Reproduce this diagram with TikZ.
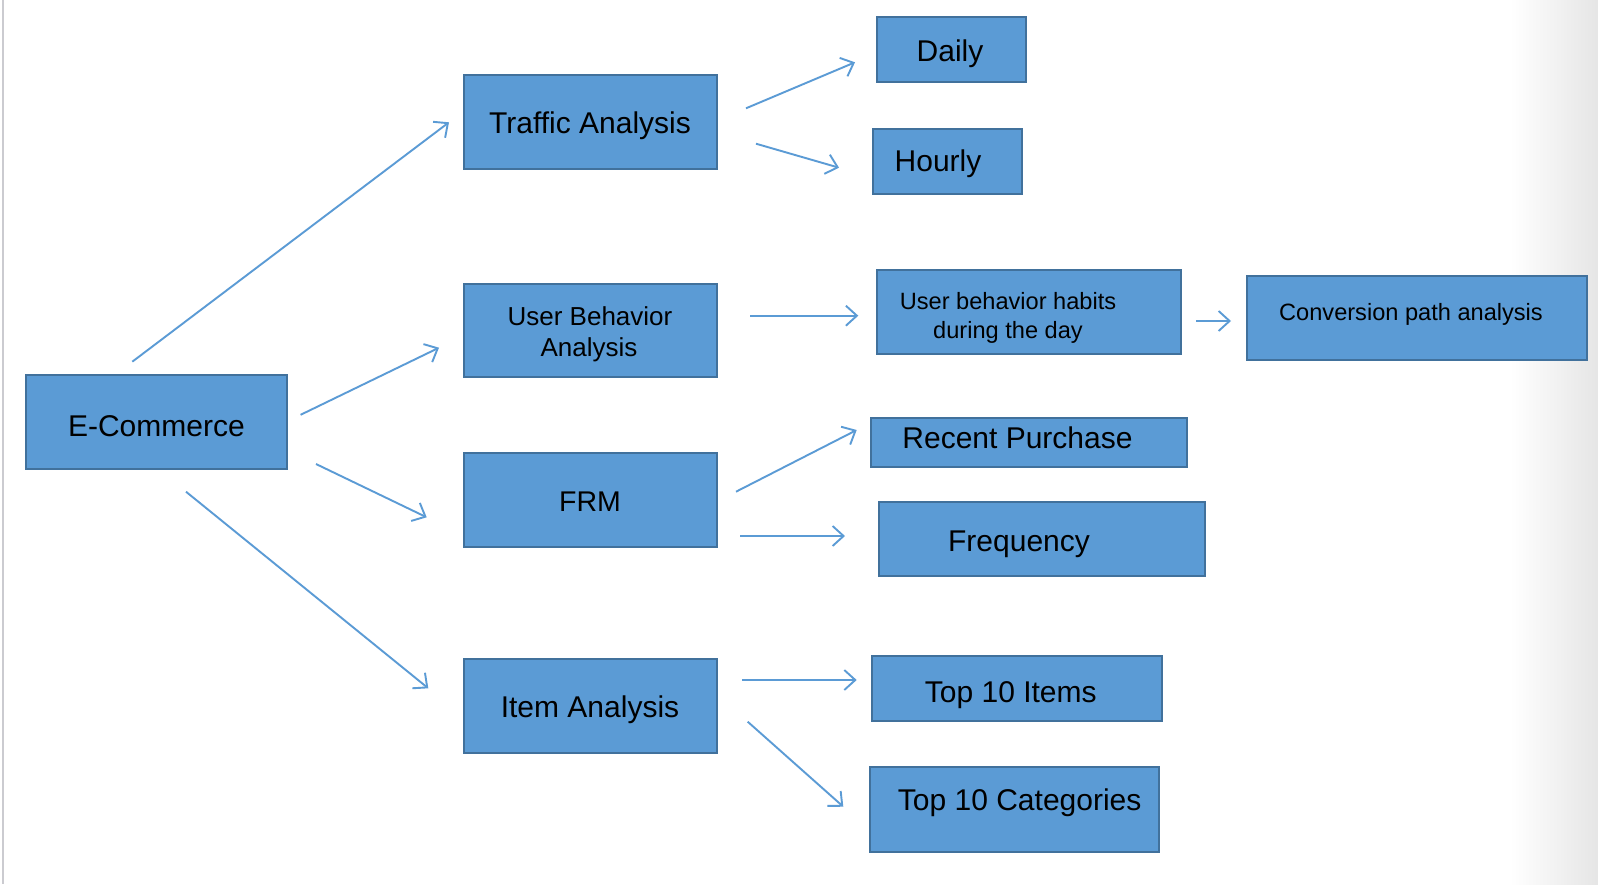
\documentclass[tikz,border=0pt]{standalone}
\usepackage{fontspec}
\setmainfont{Liberation Sans}
\usetikzlibrary{arrows.meta}
\definecolor{boxfill}{HTML}{5B9BD5}
\definecolor{boxline}{HTML}{41719C}
\definecolor{arrcol}{HTML}{5B9BD5}
\definecolor{edgegray}{HTML}{CBCBD0}
\tikzset{
  box/.style={draw=boxline, fill=boxfill, line width=2pt, inner sep=0pt, rectangle},
  arr/.style={draw=arrcol, line width=1.9pt, -{Straight Barb[length=11pt,width=20pt,line width=1.9pt]}},
  lbl/.style={anchor=base, inner sep=0pt, text=black},
  big/.style={font=\fontsize{30}{36}\selectfont},
  mid/.style={font=\fontsize{26}{31}\selectfont},
  small/.style={font=\fontsize{23.6}{29}\selectfont}
}
\begin{document}
\begin{tikzpicture}[x=1pt,y=-1pt]
\useasboundingbox (0,0) rectangle (1598,884);
\fill[white] (0,0) rectangle (1598,884);
\shade[left color=white, right color=gray!20] (1510,0) rectangle (1598,884);
\draw[edgegray, line width=2pt] (3,0) -- (3,884);

% boxes
\node[box, minimum width=261pt, minimum height=94pt] (ecom) at (156.5,422) {};
\node[box, minimum width=253pt, minimum height=94pt] (traffic) at (590.5,122) {};
\node[box, minimum width=253pt, minimum height=93pt] (uba) at (590.5,330.5) {};
\node[box, minimum width=253pt, minimum height=94pt] (frm) at (590.5,500) {};
\node[box, minimum width=253pt, minimum height=94pt] (item) at (590.5,706) {};
\node[box, minimum width=149pt, minimum height=65pt] (daily) at (951.5,49.5) {};
\node[box, minimum width=149pt, minimum height=65pt] (hourly) at (947.5,161.5) {};
\node[box, minimum width=304pt, minimum height=84pt] (habits) at (1029,312) {};
\node[box, minimum width=340pt, minimum height=84pt] (conv) at (1417,318) {};
\node[box, minimum width=316pt, minimum height=49pt] (recent) at (1029,442.5) {};
\node[box, minimum width=326pt, minimum height=74pt] (freq) at (1042,539) {};
\node[box, minimum width=290pt, minimum height=65pt] (topi) at (1017,688.5) {};
\node[box, minimum width=289pt, minimum height=85pt] (topc) at (1014.5,809.5) {};

% texts
\node[lbl, big] (t-ecom) at (156.4,436) {E-Commerce};
\node[lbl, big] (t-traffic) at (590,133.3) {Traffic Analysis};
\node[lbl, mid] (t-uba1) at (590,325.7) {User Behavior};
\node[lbl, mid] (t-uba2) at (589,356) {Analysis};
\node[lbl, big, font=\fontsize{28.5}{34}\selectfont] (t-frm) at (590,511.7) {FRM};
\node[lbl, big] (t-item) at (590,717.3) {Item Analysis};
\node[lbl, big] (t-daily) at (950,61) {Daily};
\node[lbl, big] (t-hourly) at (938,171.7) {Hourly};
\node[lbl, small] (t-hab1) at (1008,309) {User behavior habits};
\node[lbl, small] (t-hab2) at (1008,338) {during the day};
\node[lbl, small] (t-conv) at (1411,320) {Conversion path analysis};
\node[lbl, big] (t-recent) at (1017.5,448.3) {Recent Purchase};
\node[lbl, big] (t-freq) at (1019,551.7) {Frequency};
\node[lbl, big] (t-topi) at (1010.8,702.7) {Top 10 Items};
\node[lbl, big] (t-topc) at (1019.7,810) {Top 10 Categories};

% arrow end points
\coordinate (a1s) at (132.3,361.7);  \coordinate (a1e) at (449,122.3);
\coordinate (a2s) at (300.6,414.8);  \coordinate (a2e) at (439,347.7);
\coordinate (a3s) at (316,464);      \coordinate (a3e) at (426.7,517.3);
\coordinate (a4s) at (186,491.7);    \coordinate (a4e) at (428.3,688.3);
\coordinate (a5s) at (746,108.3);    \coordinate (a5e) at (855,62.3);
\coordinate (a6s) at (756,143.7);    \coordinate (a6e) at (839,167.7);
\coordinate (a7s) at (750,315.7);    \coordinate (a7e) at (858.3,315.7);
\coordinate (a8s) at (1196,321);     \coordinate (a8e) at (1231,321);
\coordinate (a9s) at (736,491.7);    \coordinate (a9e) at (856.7,430);
\coordinate (a10s) at (740,536);     \coordinate (a10e) at (845,536);
\coordinate (a11s) at (742,680);     \coordinate (a11e) at (856.7,680);
\coordinate (a12s) at (747.7,721.7); \coordinate (a12e) at (843.3,806.7);

\draw[arr] (a1s) -- (a1e);
\draw[arr] (a2s) -- (a2e);
\draw[arr] (a3s) -- (a3e);
\draw[arr] (a4s) -- (a4e);
\draw[arr] (a5s) -- (a5e);
\draw[arr] (a6s) -- (a6e);
\draw[arr] (a7s) -- (a7e);
\draw[arr] (a8s) -- (a8e);
\draw[arr] (a9s) -- (a9e);
\draw[arr] (a10s) -- (a10e);
\draw[arr] (a11s) -- (a11e);
\draw[arr] (a12s) -- (a12e);
\end{tikzpicture}
\end{document}
